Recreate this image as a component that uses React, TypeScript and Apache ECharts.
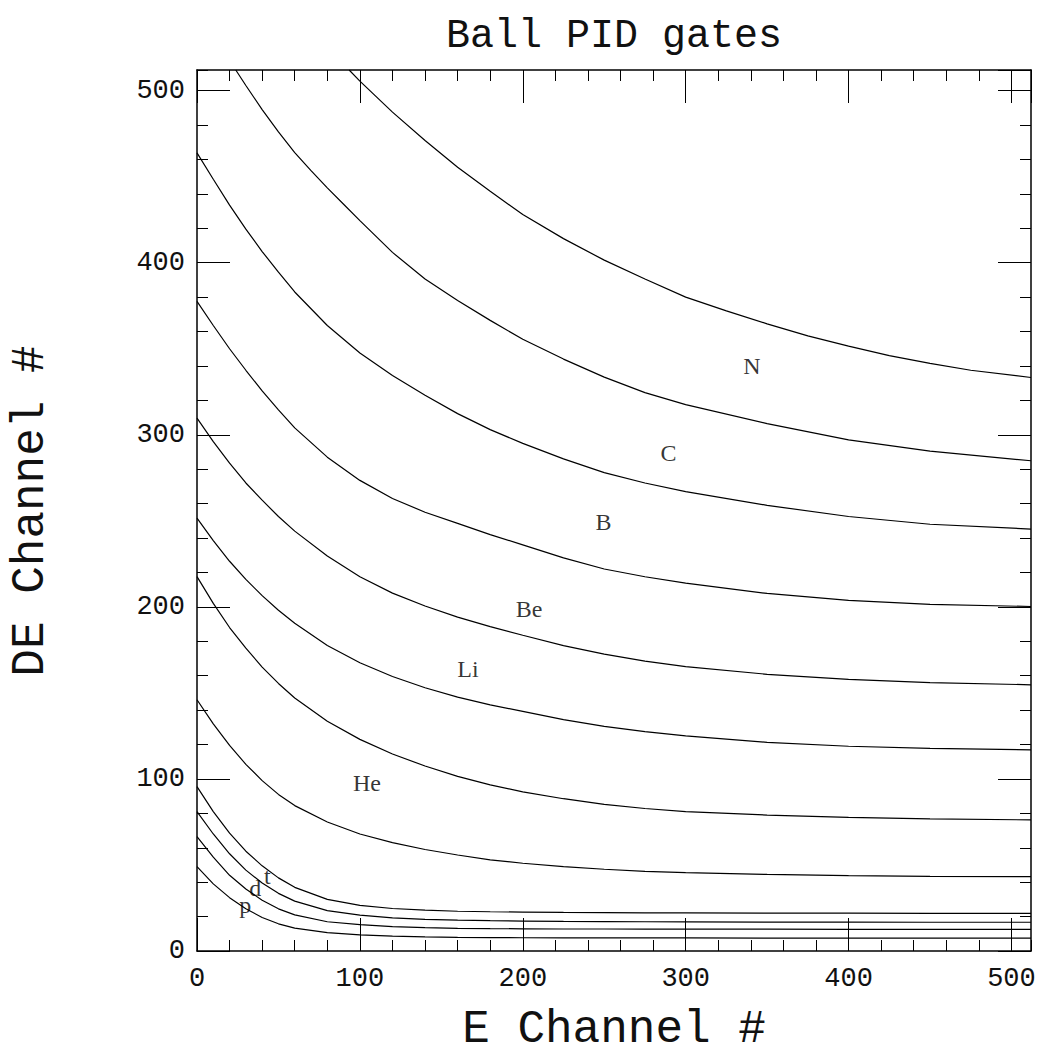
import React, { useEffect, useRef } from "react";
import * as echarts from "echarts";

// ---- axis ranges / ticks ----
const E_MAX = 512;
const DE_MAX = 512;
const MAJOR_STEP = 100;
const MINOR_STEP = 20;

// ---- gate curves (E channel, DE channel) ----
const eGrid = [0, 10, 20, 30, 40, 50, 60, 80, 100, 120, 140, 160, 180, 200, 225, 250, 275, 300, 350, 400, 450, 512];

// upper boundary above N (enters the frame at top)
const gateTopE = [93.4, 100, 120, 140, 160, 180, 200, 225, 250, 275, 300, 325, 350, 375, 400, 425, 450, 475, 512];
const gateTopDE = [512, 505.5, 487.5, 471, 455.5, 441.5, 428, 414, 401.5, 390.5, 380, 372, 364.5, 357.5, 351.5, 346, 341.5, 337.5, 333.3];

// N / C boundary (enters the frame at top)
const gateNCE = [23.8, 30, 40, 50, 60, 70, 80, 90, 100, 120, 140, 160, 180, 200, 225, 250, 275, 300, 350, 400, 450, 512];
const gateNCDE = [512, 503, 489, 476, 464, 453.5, 443.5, 434, 424.5, 406, 390.5, 378, 366.5, 355.5, 344, 333.5, 324.5, 317.5, 306.5, 297, 290.5, 284.9];

// remaining boundaries on the common E grid
const gateCB = [463.8, 448.5, 433.5, 419.5, 406.5, 394.5, 383, 363.5, 347.5, 334.5, 323, 312.3, 303, 295, 286, 278, 272, 267, 259, 252.5, 248, 245.2];
const gateBBe = [377.5, 363.5, 350, 337.5, 325.5, 314.5, 304, 287, 273.5, 263, 255, 248.5, 242, 236, 228.5, 222, 217.5, 213.8, 207.8, 203.8, 201.4, 200.2];
const gateBeLi = [309.7, 296, 283.5, 272, 262, 252.5, 244, 229.5, 217.5, 208, 200.5, 194, 188.5, 183.5, 177.5, 172.5, 168.5, 165.3, 160.8, 157.8, 156, 154.7];
const gateLiLow = [251.6, 238.5, 226.5, 216, 206.5, 198, 190.5, 177.5, 167.5, 159.5, 153, 147.5, 143, 139.3, 134.5, 130.5, 127.5, 125, 121.3, 119, 117.8, 116.9];
const gateHeUp = [217.6, 202, 188, 176, 165, 155.5, 147, 133.5, 123, 114.5, 107.5, 101.5, 96.5, 92.5, 88.5, 85.2, 82.8, 81, 79, 77.6, 76.8, 76.2];
const gateHeLow = [146, 132, 119.5, 108.5, 99, 91, 84.5, 75, 68, 63, 59, 55.8, 53, 51, 49, 47.5, 46.3, 45.5, 44.5, 43.8, 43.4, 43.2];
const gateTUp = [95.5, 81, 68.5, 58, 49.5, 42.5, 37, 30, 26.5, 24.7, 23.7, 23.1, 22.8, 22.6, 22.4, 22.3, 22.2, 22.1, 22.0, 22.0, 21.9, 21.9];
const gateTD = [81, 68, 56.5, 47, 39.5, 33.5, 29, 23.5, 20.8, 19.3, 18.4, 17.9, 17.6, 17.4, 17.2, 17.1, 17.0, 16.9, 16.8, 16.8, 16.7, 16.7];
const gateDP = [66.5, 54.5, 44, 36, 29.5, 24.5, 21, 17, 15.3, 14.2, 13.6, 13.2, 13.0, 12.9, 12.8, 12.8, 12.7, 12.7, 12.7, 12.6, 12.6, 12.6];
const gatePLow = [49, 39, 31, 24.5, 19.5, 15.8, 13.3, 10.7, 9.4, 8.6, 8.2, 7.9, 7.8, 7.7, 7.6, 7.6, 7.6, 7.6, 7.5, 7.5, 7.5, 7.5];

// ---- particle labels ----
const particleNames = ["N", "C", "B", "Be", "Li", "He", "t", "d", "p"];
const particleE = [340.6, 289.4, 249.5, 203.8, 166.3, 104.3, 43.1, 35.7, 29.6];
const particleDE = [339.7, 289.4, 249.1, 198.6, 163.8, 97.9, 43.7, 36.4, 26.7];

const TITLE = "Ball PID gates";
const X_NAME = "E Channel #";
const Y_NAME = "DE Channel #";

const MONO = "'Liberation Mono', 'DejaVu Sans Mono', monospace";
const SERIF = "'Liberation Serif', 'DejaVu Serif', serif";

function zip(xs: number[], ys: number[]) {
  return xs.map((x, i) => [x, ys[i]]);
}

export default function App() {
  const ref = useRef<HTMLDivElement>(null);

  useEffect(() => {
    document.body.style.margin = "0";
    if (!ref.current) return;
    const chart = echarts.init(ref.current, null, { renderer: "svg" });

    const gridCurves = [gateCB, gateBBe, gateBeLi, gateLiLow, gateHeUp, gateHeLow, gateTUp, gateTD, gateDP, gatePLow];
    const allCurves = [zip(gateTopE, gateTopDE), zip(gateNCE, gateNCDE), ...gridCurves.map((c) => zip(eGrid, c))];

    const tickLabelFmt = (v: number) => (v % MAJOR_STEP === 0 ? String(v) : "");

    const baseAxis = (min: number, max: number) => ({
      type: "value" as const,
      min,
      max,
      splitLine: { show: false },
    });

    const majorAxis = (pos: string, labels: boolean, max: number) => ({
      ...baseAxis(0, max),
      position: pos,
      interval: MAJOR_STEP,
      axisLine: { show: true, onZero: false, lineStyle: { color: "#000", width: 1.5 } },
      axisTick: { show: true, inside: true, length: 33, lineStyle: { color: "#000", width: 1 } },
      axisLabel: {
        show: labels,
        margin: pos === "bottom" ? 14 : 12,
        fontFamily: MONO,
        fontSize: 27,
        color: "#111",
        formatter: tickLabelFmt,
        showMaxLabel: false,
      },
    });

    const minorAxis = (pos: string, max: number) => ({
      ...baseAxis(0, max),
      position: pos,
      interval: MINOR_STEP,
      axisLine: { show: false, onZero: false },
      axisTick: { show: true, inside: true, length: 11, lineStyle: { color: "#000", width: 1 } },
      axisLabel: { show: false },
    });

    const option: any = {
      animation: false,
      backgroundColor: "#fff",
      grid: { left: 197, top: 70, right: 12, bottom: 111, containLabel: false },
      xAxis: [
        majorAxis("bottom", true, E_MAX),
        minorAxis("bottom", E_MAX),
        majorAxis("top", false, E_MAX),
        minorAxis("top", E_MAX),
      ],
      yAxis: [
        majorAxis("left", true, DE_MAX),
        minorAxis("left", DE_MAX),
        majorAxis("right", false, DE_MAX),
        minorAxis("right", DE_MAX),
      ],
      graphic: [
        {
          type: "text",
          x: 614,
          y: 36,
          style: { text: TITLE, font: `40px ${MONO}`, fill: "#111", textAlign: "center", textVerticalAlign: "middle" },
        },
        {
          type: "text",
          x: 614,
          y: 1030,
          style: { text: X_NAME, font: `46px ${MONO}`, fill: "#111", textAlign: "center", textVerticalAlign: "middle" },
        },
        {
          type: "text",
          x: 31,
          y: 511,
          rotation: Math.PI / 2,
          style: { text: Y_NAME, font: `46px ${MONO}`, fill: "#111", textAlign: "center", textVerticalAlign: "middle" },
        },
      ],
      series: [
        ...allCurves.map((data) => ({
          type: "line",
          xAxisIndex: 0,
          yAxisIndex: 0,
          data,
          showSymbol: false,
          symbol: "none",
          smooth: false,
          lineStyle: { color: "#000", width: 1.2 },
          silent: true,
        })),
        {
          type: "scatter",
          xAxisIndex: 0,
          yAxisIndex: 0,
          symbolSize: 0,
          data: particleNames.map((n, i) => ({ value: [particleE[i], particleDE[i]], name: n })),
          label: {
            show: true,
            position: "inside",
            formatter: (p: any) => p.name,
            fontFamily: SERIF,
            fontSize: 24,
            color: "#000",
          },
          silent: true,
        },
      ],
    };

    chart.setOption(option);
    return () => chart.dispose();
  }, []);

  return <div ref={ref} style={{ width: 1043, height: 1062 }} />;
}
